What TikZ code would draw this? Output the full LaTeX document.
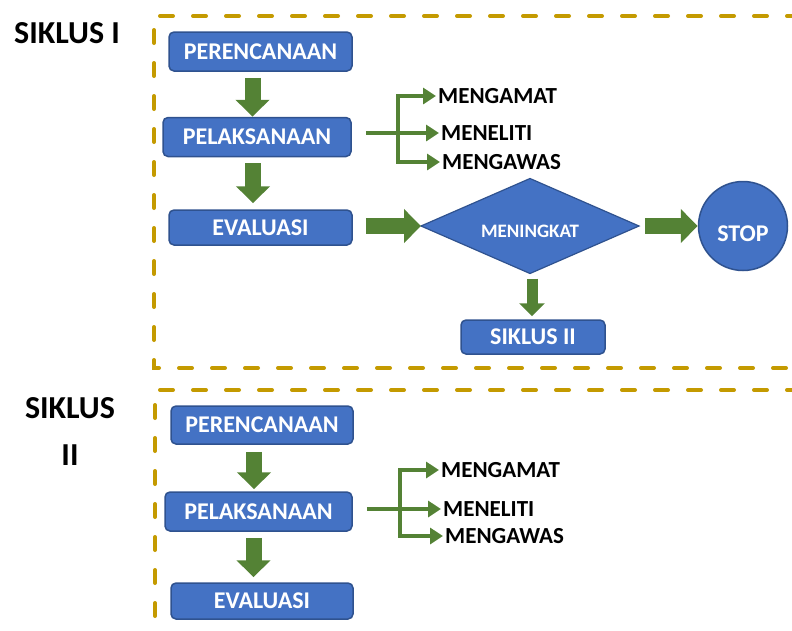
\documentclass[tikz,border=0pt]{standalone}
\usepackage{fontspec}
\setmainfont{Carlito}
\usetikzlibrary{shapes.geometric,arrows.meta}
\definecolor{boxblue}{HTML}{4472C4}
\definecolor{boxedge}{HTML}{2F528F}
\definecolor{arrgreen}{HTML}{548235}
\definecolor{framegold}{HTML}{C49A00}

\begin{document}
\begin{tikzpicture}[x=1pt,y=-1pt,
  box/.style={draw=boxedge, line width=1.5pt, fill=boxblue, rounded corners=5pt,
    text=white, font=\bfseries\fontsize{24}{24}\selectfont, inner sep=0pt},
  decide/.style={diamond, draw=boxedge, line width=1.2pt, fill=boxblue, aspect=2.3,
    minimum width=218pt, minimum height=95pt, inner sep=0pt, outer sep=0pt,
    text=white, font=\bfseries\fontsize{19}{19}\selectfont},
  stopnode/.style={circle, draw=boxedge, line width=1.5pt, fill=boxblue,
    minimum size=89pt, inner sep=0pt, text=white, font=\bfseries\fontsize{24}{24}\selectfont},
  lbl/.style={anchor=west, inner sep=2pt, font=\bfseries\fontsize{23}{23}\selectfont},
  siklus/.style={font=\bfseries\fontsize{32}{32}\selectfont, align=center},
  frame/.style={draw=framegold, line width=4pt, line cap=round, dash pattern=on 13pt off 20pt},
  fat/.style={draw=arrgreen, line width=16pt, -{Triangle[length=17pt,width=33pt]}},
  slim/.style={draw=arrgreen, line width=11pt, -{Triangle[length=13pt,width=25pt]}},
  branch/.style={draw=arrgreen, line width=4pt, -{Triangle[length=13pt,width=16pt]}}
]
\useasboundingbox (0,0) rectangle (792,630);

% dashed frames
\draw[frame] (800,16) -- (154,16) -- (154,368) -- (800,368);
\draw[frame] (800,390) -- (155,390) -- (155,640);

% siklus I
\node[siklus] (s1) at (67,33) {SIKLUS I};
\node[box, minimum width=183pt, minimum height=39pt] (per1) at (260.5,51.5) {PERENCANAAN};
\node[box, minimum width=188pt, minimum height=39pt] (pel1) at (257,137) {PELAKSANAAN};
\node[box, minimum width=183pt, minimum height=35pt] (eva1) at (260.5,227.5) {EVALUASI};
\node[decide] (ning) at (530,226) {\raisebox{-11pt}[0pt][0pt]{MENINGKAT}};
\node[stopnode] (stop) at (743,226) {\raisebox{-15pt}[0pt][0pt]{STOP}};
\node[box, minimum width=144pt, minimum height=34pt] (sik2) at (533,337) {SIKLUS II};

\draw[fat, shorten <=6pt] ([xshift=-8pt]per1.south) -- ([xshift=-8pt]per1.south |- pel1.north);
\draw[fat, shorten <=6pt, shorten >=6pt] ([xshift=-4pt]pel1.south) -- ([xshift=-4pt]pel1.south |- eva1.north);
\draw[fat, shorten <=13pt] (eva1.east |- ning.west) -- (ning.west);
\draw[fat, shorten <=6pt] (ning.east) -- (stop.west);
\draw[slim, shorten <=5pt, shorten >=3pt] ([xshift=2pt]ning.south) -- ([xshift=2pt]ning.south |- sik2.north);

% cabang siklus I
\coordinate (j1) at (398,132);
\node[lbl] (ama1) at (436,96) {MENGAMAT};
\node[lbl] (net1) at (439,133) {MENELITI};
\node[lbl] (was1) at (440,162) {MENGAWAS};
\draw[branch, {Triangle[length=13pt,width=16pt]}-{Triangle[length=13pt,width=16pt]}]
  (ama1.west) -| (j1) |- (was1.west);
\draw[branch, shorten <=14pt] (pel1.east |- net1.west) -- (net1.west);

% siklus II
\node[siklus] (s2) at (70,431.5) {SIKLUS\\[15pt]II};
\node[box, minimum width=182pt, minimum height=38pt] (per2) at (262,425) {PERENCANAAN};
\node[box, minimum width=187pt, minimum height=39pt] (pel2) at (258.5,511.5) {PELAKSANAAN};
\node[box, minimum width=182pt, minimum height=36pt] (eva2) at (262,601) {EVALUASI};

\draw[fat, shorten <=7pt, shorten >=2pt] ([xshift=-8pt]per2.south) -- ([xshift=-8pt]per2.south |- pel2.north);
\draw[fat, shorten <=6pt, shorten >=5pt] ([xshift=-5pt]pel2.south) -- ([xshift=-5pt]pel2.south |- eva2.north);

% cabang siklus II
\coordinate (j2) at (400,507);
\node[lbl] (ama2) at (439,470) {MENGAMAT};
\node[lbl] (net2) at (441,509) {MENELITI};
\node[lbl] (was2) at (443,536) {MENGAWAS};
\draw[branch, {Triangle[length=13pt,width=16pt]}-{Triangle[length=13pt,width=16pt]}]
  (ama2.west) -| (j2) |- (was2.west);
\draw[branch, shorten <=14pt] (pel2.east |- net2.west) -- (net2.west);

\end{tikzpicture}
\end{document}
